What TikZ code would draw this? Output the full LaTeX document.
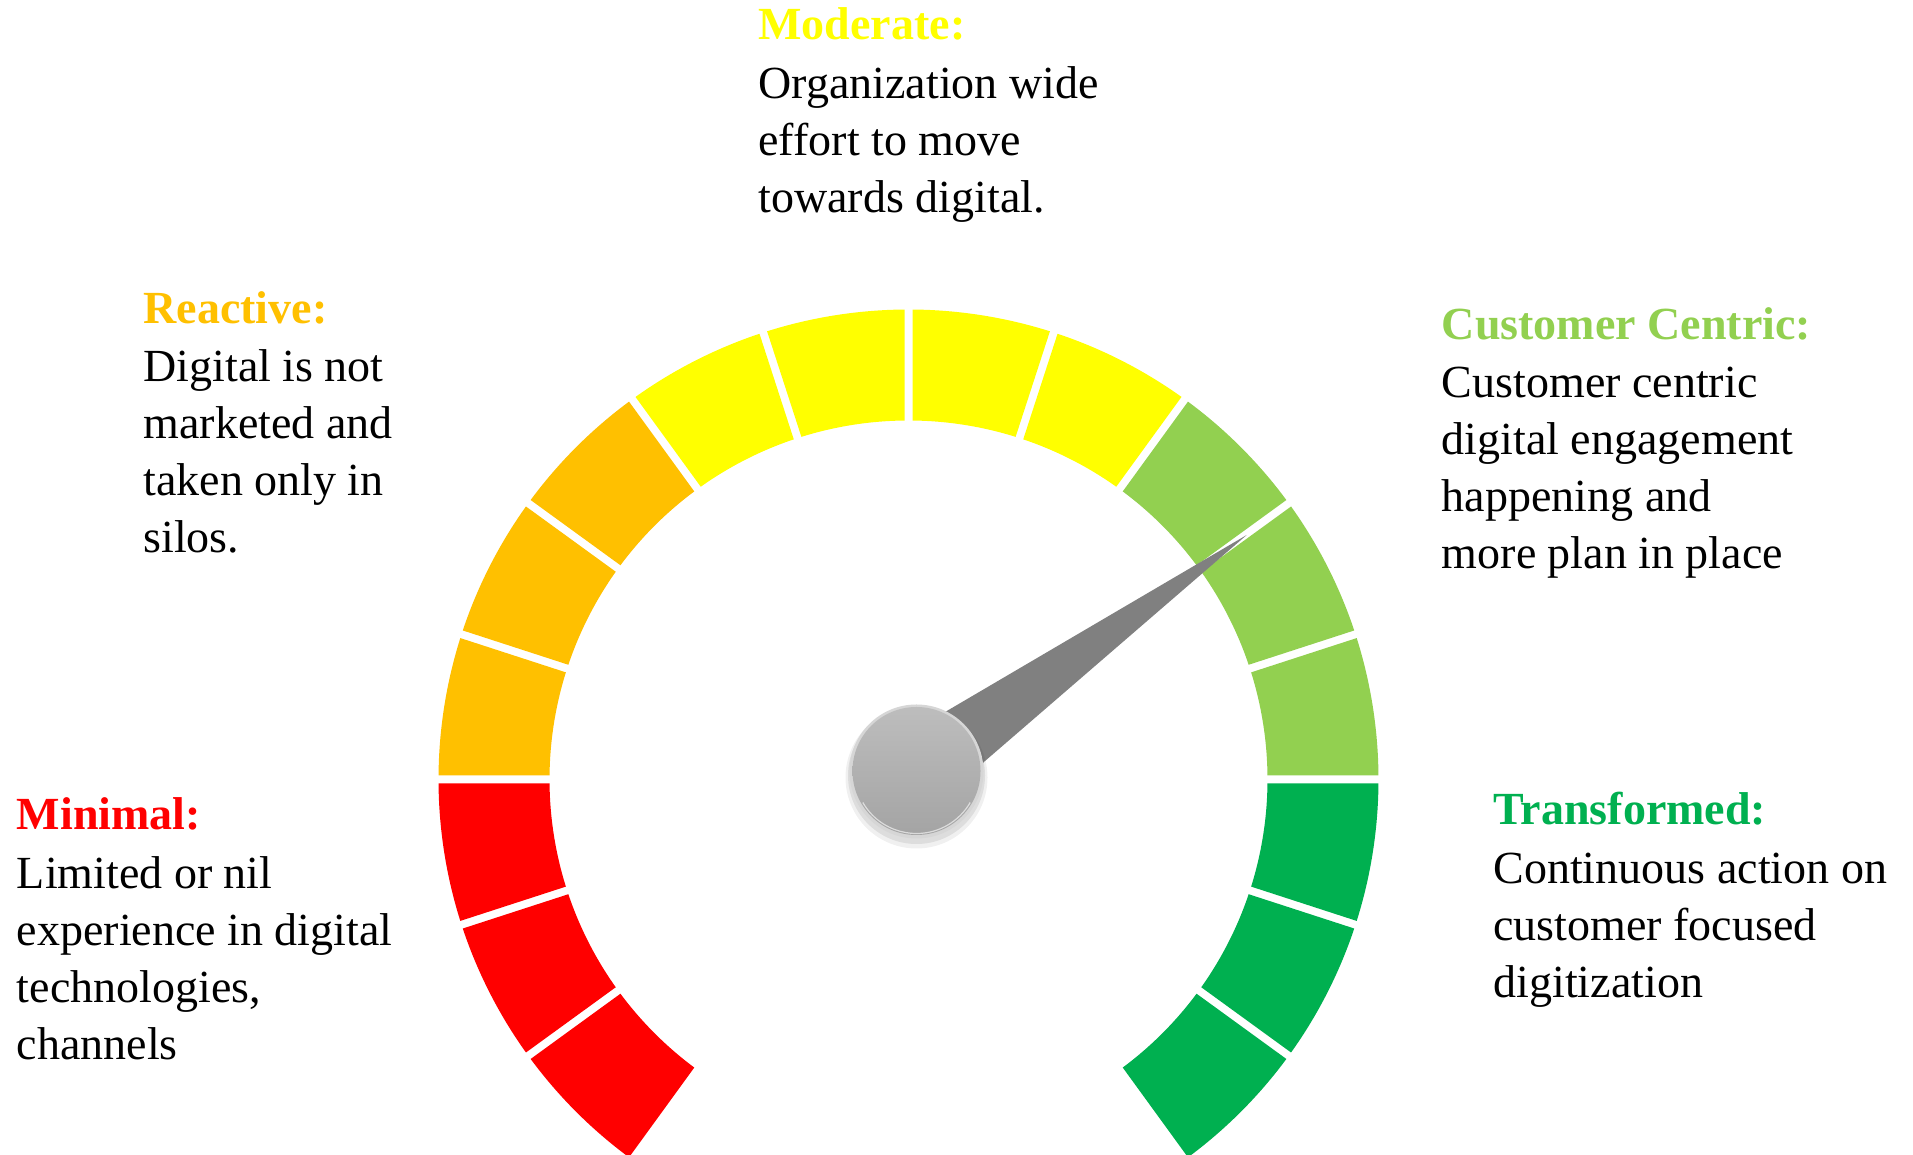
\documentclass[tikz,border=0pt]{standalone}
\usepackage{fontspec}
\setmainfont{Liberation Serif}
\definecolor{cRed}{HTML}{FF0000}
\definecolor{cOrange}{HTML}{FFC000}
\definecolor{cYellow}{HTML}{FFFF00}
\definecolor{cLGreen}{HTML}{92D050}
\definecolor{cGreen}{HTML}{00B050}
\definecolor{cNeedle}{HTML}{808080}
\definecolor{cKnobTop}{HTML}{BDBDBD}
\definecolor{cKnobBot}{HTML}{A4A4A4}
\definecolor{cKnobRim}{HTML}{D6D6D6}
\newcommand\gtitle[2]{\hbox{\bfseries\color{#1}#2}\kern1.5pt}
\tikzset{
  desc/.style={anchor=base west, inner sep=0pt, font=\fontsize{46}{57}\selectfont},
}
\begin{document}
\begin{tikzpicture}[x=1pt,y=1pt]
\fill[white] (0,0) rectangle (1913,1155);
\useasboundingbox (0,0) rectangle (1913,1155);
% gauge segments
\begin{scope}[shift={(908.5,375.5)}]
\foreach \a/\c in {-54/cGreen,-36/cGreen,-18/cGreen,0/cLGreen,18/cLGreen,36/cLGreen,54/cYellow,72/cYellow,90/cYellow,108/cYellow,126/cOrange,144/cOrange,162/cOrange,180/cRed,198/cRed,216/cRed}{
  \pgfmathsetmacro\sa{\a+0.4876}
  \pgfmathsetmacro\ea{\a+18-0.4876}
  \pgfmathsetmacro\si{\a+0.6384}
  \pgfmathsetmacro\ei{\a+18-0.6384}
  \fill[\c] (\sa:470) arc[start angle=\sa, end angle=\ea, radius=470] -- (\ei:359) arc[start angle=\ei, end angle=\si, radius=359] -- cycle;
}
\end{scope}
% needle
\coordinate (knobc) at (916.5,383.5);
\coordinate (tip) at (1246.7,620);
\fill[cNeedle] ([shift={(125.6:37)}]knobc) -- (tip) -- ([shift={(-54.4:37)}]knobc) -- cycle;
% knob shadow
\fill[black, opacity=0.06] ([yshift=-6]knobc) circle (71);
\fill[black, opacity=0.08] ([yshift=-4]knobc) circle (68.5);
\node[circle, minimum size=134pt, inner sep=0pt, fill=cKnobRim] (knob) at (knobc) {};
\node[circle, minimum size=128pt, inner sep=0pt, top color=cKnobTop, bottom color=cKnobBot] (knobin) at ([yshift=0.5]knobc) {};
\draw[white, opacity=0.6, line width=1.2pt] ([shift={(-150:62)}]knobc) arc[start angle=-150, end angle=-30, radius=62];
% texts
\node[desc] (moderate) at (758.3,1115) {\vtop{\gtitle{cYellow}{Moderate:}\hbox{Organization wide}\hbox{effort to move}\hbox{towards digital.}}};
\node[desc] (reactive) at (143.3,831.7) {\vtop{\gtitle{cOrange}{Reactive:}\hbox{Digital is not}\hbox{marketed and}\hbox{taken only in}\hbox{silos.}}};
\node[desc] (centric) at (1441.7,815.7) {\vtop{\gtitle{cLGreen}{Customer Centric:}\hbox{Customer centric}\hbox{digital engagement}\hbox{happening and}\hbox{more plan in place}}};
\node[desc] (minimal) at (16.7,325) {\vtop{\gtitle{cRed}{Minimal:}\hbox{Limited or nil}\hbox{experience in digital}\hbox{technologies,}\hbox{channels}}};
\node[desc] (transformed) at (1493.3,330) {\vtop{\gtitle{cGreen}{Transformed:}\hbox{Continuous action on}\hbox{customer focused}\hbox{digitization}}};
\end{tikzpicture}
\end{document}
